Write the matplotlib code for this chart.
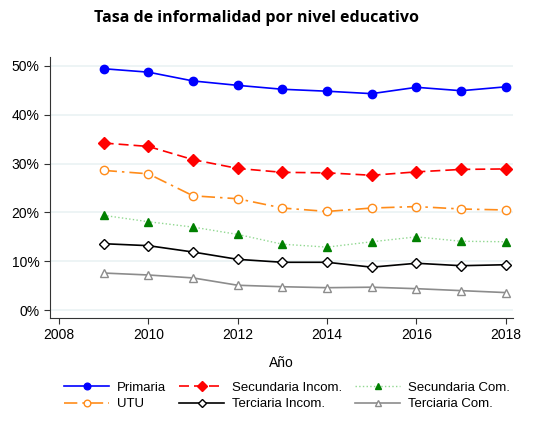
import numpy as np
import matplotlib
matplotlib.use("Agg")
import matplotlib.pyplot as plt
from matplotlib.ticker import FuncFormatter

plt.rcParams['font.family'] = ['Liberation Sans', 'DejaVu Sans']

# Datos (en %)
anios = [2009, 2010, 2011, 2012, 2013, 2014, 2015, 2016, 2017, 2018]
primaria = [49.4, 48.7, 46.9, 46.0, 45.2, 44.8, 44.3, 45.6, 44.9, 45.7]
sec_incom = [34.2, 33.5, 30.8, 29.0, 28.2, 28.1, 27.6, 28.3, 28.8, 28.9]
sec_com = [19.4, 18.1, 17.0, 15.5, 13.5, 12.9, 14.0, 15.0, 14.1, 14.0]
utu = [28.6, 27.9, 23.4, 22.8, 20.9, 20.2, 20.9, 21.2, 20.7, 20.5]
ter_incom = [13.6, 13.2, 11.9, 10.4, 9.8, 9.8, 8.8, 9.6, 9.1, 9.3]
ter_com = [7.6, 7.2, 6.6, 5.1, 4.8, 4.6, 4.7, 4.4, 4.0, 3.6]

fig = plt.figure(figsize=(5.44, 4.45), dpi=100)
ax = fig.add_axes([50/544, 1-318/445, 463/544, 261/445])

ms = 6
l1, = ax.plot(anios, primaria, color='#0000ff', marker='o', ms=ms, lw=1.2, label='Primaria')
l2, = ax.plot(anios, sec_incom, color='#ff0000', marker='D', ms=ms, lw=1.2, ls=(0, (6, 3)),
              label='Secundaria Incom.')
l3, = ax.plot(anios, sec_com, color='#90d890', marker='^', ms=ms, lw=1.0, ls=':',
              mfc='#008000', mec='#008000', label='Secundaria Com.')
l4, = ax.plot(anios, utu, color='#ff8c1a', marker='o', ms=ms, lw=1.2, ls=(0, (8, 3, 1.5, 3)),
              mfc='white', label='UTU')
l5, = ax.plot(anios, ter_incom, color='black', marker='D', ms=ms-0.5, lw=1.2,
              mfc='white', label='Terciaria Incom.')
l6, = ax.plot(anios, ter_com, color='#8c8c8c', marker='^', ms=ms, lw=1.2,
              mfc='white', label='Terciaria Com.')

ax.set_xlim(2007.8, 2018.16)
ax.set_ylim(-1.6, 51.8)
ax.set_xticks([2008, 2010, 2012, 2014, 2016, 2018])
ax.set_yticks([0, 10, 20, 30, 40, 50])
ax.yaxis.set_major_formatter(FuncFormatter(lambda v, p: f'{v:.0f}%'))
ax.grid(axis='y', color='#eaf2f3', lw=1.2)
ax.set_axisbelow(True)
for s in ['top', 'right']:
    ax.spines[s].set_visible(False)
for s in ['left', 'bottom']:
    ax.spines[s].set_color('#333333')
ax.tick_params(labelsize=10, colors='#333333', labelcolor='black', length=4)
ax.set_xlabel('Año', fontsize=10, labelpad=10)

fig.text(256/544, 1-18/445, 'Tasa de informalidad por nivel educativo',
         ha='center', va='center', fontsize=11.5, fontweight='bold', family=['Open Sans', 'DejaVu Sans'])

fig.legend(handles=[l1, l4, l2, l5, l3, l6], ncol=3, loc='center',
           bbox_to_anchor=(287/544, 1-396/445), frameon=False, fontsize=9.5,
           handlelength=3.4, columnspacing=1.0, handletextpad=0.6, labelspacing=0.3,
           markerscale=0.8)

fig.savefig('out.png', dpi=100)
